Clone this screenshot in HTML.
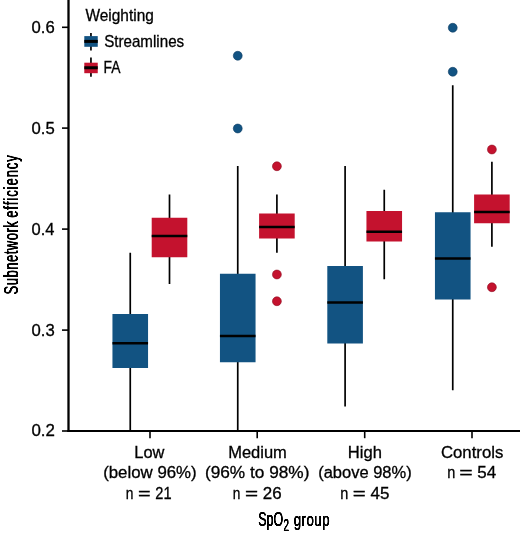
<!DOCTYPE html>
<html><head><meta charset="utf-8"><title>Subnetwork efficiency by SpO2 group</title>
<style>
html,body{margin:0;padding:0;background:#fff;}
body{width:520px;height:536px;overflow:hidden;}
svg{display:block;}
text{font-family:"Liberation Sans",sans-serif;fill:#000;white-space:pre;stroke:#000;stroke-width:0.3px;}
.t{font-size:16.4px;}
.l{font-size:16.2px;}
.d{font-size:15.8px;}
.c text{font-size:21.0px;stroke:#000;stroke-width:0.2px;}
</style></head>
<body>
<svg width="520" height="536" viewBox="0 0 520 536" role="img" aria-label="Box plot of subnetwork efficiency by SpO2 group">
<rect width="520" height="536" fill="#fff"/>
<g id="boxes" transform="translate(0,0.25)">
<g id="low">
<line x1="130.25" y1="252.5" x2="130.25" y2="431" stroke="#000" stroke-width="1.7"/>
<rect x="112.45" y="313.75" width="35.6" height="54.00" fill="#125382"/>
<line x1="112.45" y1="343" x2="148.05" y2="343" stroke="#000" stroke-width="2.5"/>
<line x1="169.5" y1="194.25" x2="169.5" y2="283.75" stroke="#000" stroke-width="1.7"/>
<rect x="151.70" y="217.5" width="35.6" height="39.50" fill="#c4122e"/>
<line x1="151.70" y1="235.75" x2="187.30" y2="235.75" stroke="#000" stroke-width="2.5"/>
</g><g id="medium">
<line x1="237.75" y1="165.75" x2="237.75" y2="431" stroke="#000" stroke-width="1.7"/>
<rect x="219.95" y="273.5" width="35.6" height="88.50" fill="#125382"/>
<line x1="219.95" y1="335.75" x2="255.55" y2="335.75" stroke="#000" stroke-width="2.5"/>
<circle cx="237.75" cy="55.5" r="4.45" fill="#125382" stroke="#0d3d63" stroke-width="0.6"/>
<circle cx="237.75" cy="128.25" r="4.45" fill="#125382" stroke="#0d3d63" stroke-width="0.6"/>
<line x1="276.9" y1="194.25" x2="276.9" y2="252.5" stroke="#000" stroke-width="1.7"/>
<rect x="259.10" y="213.25" width="35.6" height="25.00" fill="#c4122e"/>
<line x1="259.10" y1="226.75" x2="294.70" y2="226.75" stroke="#000" stroke-width="2.5"/>
<circle cx="276.9" cy="166" r="4.45" fill="#c4122e" stroke="#8f0d22" stroke-width="0.6"/>
<circle cx="276.9" cy="274.25" r="4.45" fill="#c4122e" stroke="#8f0d22" stroke-width="0.6"/>
<circle cx="276.9" cy="301" r="4.45" fill="#c4122e" stroke="#8f0d22" stroke-width="0.6"/>
</g><g id="high">
<line x1="345.1" y1="165.75" x2="345.1" y2="406.25" stroke="#000" stroke-width="1.7"/>
<rect x="327.30" y="265.75" width="35.6" height="77.50" fill="#125382"/>
<line x1="327.30" y1="302.25" x2="362.90" y2="302.25" stroke="#000" stroke-width="2.5"/>
<line x1="384.25" y1="189.5" x2="384.25" y2="279" stroke="#000" stroke-width="1.7"/>
<rect x="366.45" y="210.75" width="35.6" height="30.50" fill="#c4122e"/>
<line x1="366.45" y1="231.5" x2="402.05" y2="231.5" stroke="#000" stroke-width="2.5"/>
</g><g id="controls">
<line x1="452.75" y1="85" x2="452.75" y2="390" stroke="#000" stroke-width="1.7"/>
<rect x="434.95" y="212" width="35.6" height="87.25" fill="#125382"/>
<line x1="434.95" y1="258.25" x2="470.55" y2="258.25" stroke="#000" stroke-width="2.5"/>
<circle cx="452.75" cy="27.5" r="4.45" fill="#125382" stroke="#0d3d63" stroke-width="0.6"/>
<circle cx="452.75" cy="71.5" r="4.45" fill="#125382" stroke="#0d3d63" stroke-width="0.6"/>
<line x1="491.9" y1="161.5" x2="491.9" y2="246.5" stroke="#000" stroke-width="1.7"/>
<rect x="474.10" y="194.25" width="35.6" height="28.75" fill="#c4122e"/>
<line x1="474.10" y1="211.75" x2="509.70" y2="211.75" stroke="#000" stroke-width="2.5"/>
<circle cx="491.9" cy="149.25" r="4.45" fill="#c4122e" stroke="#8f0d22" stroke-width="0.6"/>
<circle cx="491.9" cy="287" r="4.45" fill="#c4122e" stroke="#8f0d22" stroke-width="0.6"/>
</g></g>
<line x1="68.5" y1="0" x2="68.5" y2="432" stroke="#000" stroke-width="2.3"/>
<line x1="67.4" y1="431" x2="520" y2="431" stroke="#000" stroke-width="2.2"/>
<line x1="62" y1="27.3" x2="68" y2="27.3" stroke="#000" stroke-width="1.6"/>
<line x1="62" y1="128.1" x2="68" y2="128.1" stroke="#000" stroke-width="1.6"/>
<line x1="62" y1="229.1" x2="68" y2="229.1" stroke="#000" stroke-width="1.6"/>
<line x1="62" y1="330.1" x2="68" y2="330.1" stroke="#000" stroke-width="1.6"/>
<line x1="62" y1="431.0" x2="68" y2="431.0" stroke="#000" stroke-width="1.6"/>
<line x1="150" y1="431" x2="150" y2="438.2" stroke="#000" stroke-width="1.6"/>
<line x1="257.2" y1="431" x2="257.2" y2="438.2" stroke="#000" stroke-width="1.6"/>
<line x1="364.7" y1="431" x2="364.7" y2="438.2" stroke="#000" stroke-width="1.6"/>
<line x1="472" y1="431" x2="472" y2="438.2" stroke="#000" stroke-width="1.6"/>

<g id="legend-keys">
<line x1="90.95" y1="33.1" x2="90.95" y2="50.4" stroke="#000" stroke-width="1.7"/>
<rect x="84.3" y="36.1" width="13.45" height="10.7" fill="#125382"/>
<line x1="84.3" y1="41.4" x2="97.75" y2="41.4" stroke="#000" stroke-width="3"/>
<line x1="90.95" y1="57.4" x2="90.95" y2="76.8" stroke="#000" stroke-width="1.7"/>
<rect x="84.3" y="62.7" width="13.45" height="10.5" fill="#c4122e"/>
<line x1="84.3" y1="67.75" x2="97.75" y2="67.75" stroke="#000" stroke-width="3"/>
</g>

<text class="d" transform="translate(31.47,32.75) scale(1.0571,1)">0.6</text>
<text class="d" transform="translate(31.47,133.55) scale(1.0571,1)">0.5</text>
<text class="d" transform="translate(31.48,234.55) scale(1.0447,1)">0.4</text>
<text class="d" transform="translate(31.47,335.55) scale(1.0571,1)">0.3</text>
<text class="d" transform="translate(31.47,436.45) scale(1.0699,1)">0.2</text>
<text class="t" transform="translate(134.35,457.60) scale(1.0000,1)">Low</text>
<text class="t" transform="translate(103.13,478.30) scale(1.0268,1)">(below 96%)</text>
<text class="t" transform="translate(228.14,457.60) scale(1.0071,1)">Medium</text>
<text class="t" transform="translate(204.91,478.30) scale(1.0527,1)">(96% to 98%)</text>
<text class="t" transform="translate(347.83,457.60) scale(1.0127,1)">High</text>
<text class="t" transform="translate(318.14,478.30) scale(1.0071,1)">(above 98%)</text>
<text class="t" transform="translate(440.93,457.60) scale(1.0226,1)">Controls</text>
<text class="l" transform="translate(85.50,20.70) scale(0.9527,1)">Weighting</text>
<text class="l" transform="translate(104.13,46.60) scale(0.9361,1)">Streamlines</text>
<text class="l" transform="translate(103.43,72.70) scale(0.8587,1)">FA</text>
<text class="t" y="498.80"><tspan x="125.71" textLength="7.68" lengthAdjust="spacingAndGlyphs">n</tspan> <tspan x="138.06" textLength="12.65" lengthAdjust="spacingAndGlyphs">=</tspan> <tspan x="155.36" textLength="16.23" lengthAdjust="spacingAndGlyphs" class="d">21</tspan></text>
<text class="t" y="498.80"><tspan x="232.77" textLength="7.61" lengthAdjust="spacingAndGlyphs">n</tspan> <tspan x="245.02" textLength="13.12" lengthAdjust="spacingAndGlyphs">=</tspan> <tspan x="262.75" textLength="18.82" lengthAdjust="spacingAndGlyphs" class="d">26</tspan></text>
<text class="t" y="498.80"><tspan x="340.37" textLength="8.06" lengthAdjust="spacingAndGlyphs">n</tspan> <tspan x="352.73" textLength="13.00" lengthAdjust="spacingAndGlyphs">=</tspan> <tspan x="370.48" textLength="18.89" lengthAdjust="spacingAndGlyphs" class="d">45</tspan></text>
<text class="t" y="478.30"><tspan x="447.37" textLength="8.06" lengthAdjust="spacingAndGlyphs">n</tspan> <tspan x="459.30" textLength="13.47" lengthAdjust="spacingAndGlyphs">=</tspan> <tspan x="477.21" textLength="18.89" lengthAdjust="spacingAndGlyphs" class="d">54</tspan></text>

<defs><filter id="hb" x="-10%" y="-10%" width="120%" height="120%"><feGaussianBlur stdDeviation="0.5 0"/><feComponentTransfer><feFuncA type="linear" slope="1.9" intercept="-0.08"/></feComponentTransfer></filter></defs>
<g class="c">
<text filter="url(#hb)" y="526.3"><tspan x="258.16" textLength="25.03" lengthAdjust="spacingAndGlyphs" style="letter-spacing:0.129px">SpO</tspan><tspan x="283.45" textLength="5.48" lengthAdjust="spacingAndGlyphs" y="530.9" style="font-size:16.6px">2</tspan> <tspan x="293.68" textLength="36.40" lengthAdjust="spacingAndGlyphs" y="526.0" style="font-size:19.2px;letter-spacing:0.734px">group</tspan></text>
<text filter="url(#hb)" transform="translate(18.0,293.9) rotate(-90)" style="font-size:20.8px"><tspan x="-0.46" textLength="73.83" lengthAdjust="spacingAndGlyphs" style="letter-spacing:0.926px">Subnetwork</tspan> <tspan x="76.13" textLength="63.62" lengthAdjust="spacingAndGlyphs" style="letter-spacing:1.629px">efficiency</tspan></text>
</g>

</svg>
</body></html>
